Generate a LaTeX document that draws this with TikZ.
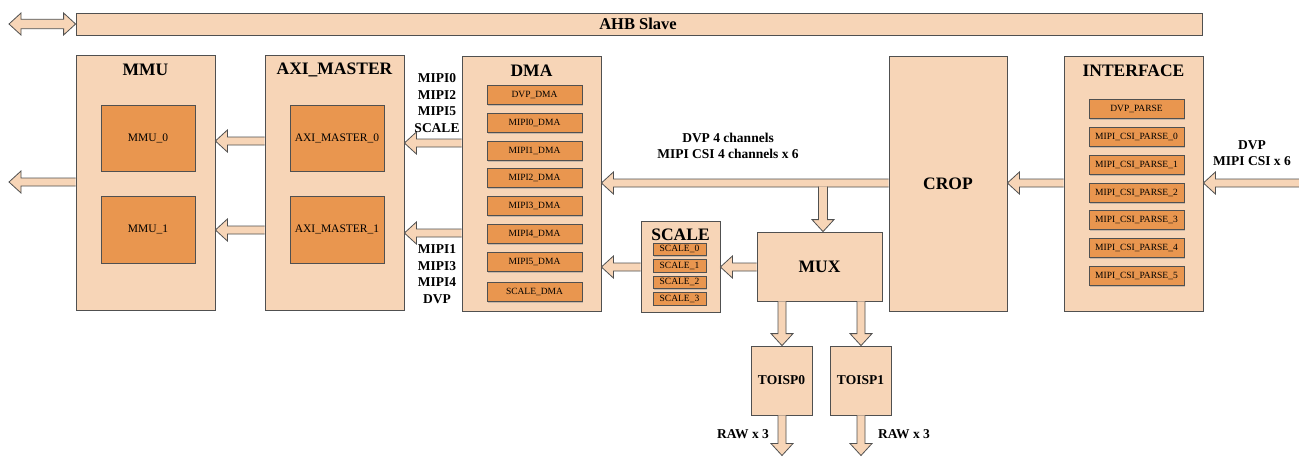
\documentclass[tikz,border=0pt]{standalone}
\usepackage{fontspec}
\setmainfont{Liberation Serif}
\usetikzlibrary{calc,shadows}
\definecolor{peach}{HTML}{F7D5B7}
\definecolor{orng}{HTML}{E9964F}
\definecolor{edgec}{HTML}{505050}
\tikzset{
  outerbox/.style={draw=edgec, fill=peach, line width=0.8pt, inner sep=0pt,
    drop shadow={shadow xshift=1.2pt, shadow yshift=-1.2pt, fill=black!40, opacity=0.5}},
  innerbox/.style={draw=edgec, fill=orng, line width=0.8pt, inner sep=0pt,
    drop shadow={shadow xshift=1pt, shadow yshift=-1pt, fill=black!40, opacity=0.5}},
  barrow/.style={draw=edgec, fill=peach, line width=0.8pt, line join=miter},
  bigtitle/.style={inner sep=0pt, font=\fontsize{17.5}{20}\selectfont\bfseries},
  lbl/.style={inner sep=0pt, align=center, font=\fontsize{13.5}{16.7}\selectfont\bfseries},
  smalltxt/.style={font=\fontsize{9.5}{11}\selectfont},
  midtxt/.style={font=\fontsize{11.5}{13}\selectfont},
}
\newcommand\bx[7]{\node[#2, minimum width={((#5)-(#3))*1pt}, minimum height={((#6)-(#4))*1pt}] (#1) at ({((#3)+(#5))/2},{((#4)+(#6))/2}) {#7};}
\newcommand\blockarr[3][4]{%
  \path[barrow] let \p1=#2, \p2=#3, \n1={atan2(\y2-\y1,\x2-\x1)}, \n2={veclen(\x2-\x1,\y2-\y1)} in
    [shift={(\p1)}, rotate=\n1] (0pt,-#1pt) -- ({\n2-12pt},-#1pt) -- ({\n2-12pt},-11pt) -- (\n2,0pt)
    -- ({\n2-12pt},11pt) -- ({\n2-12pt},#1pt) -- (0pt,#1pt);}
\newcommand\dblarr[2]{%
  \path[barrow] let \p1=#1, \p2=#2, \n1={atan2(\y2-\y1,\x2-\x1)}, \n2={veclen(\x2-\x1,\y2-\y1)} in
    [shift={(\p1)}, rotate=\n1] (0pt,0pt) -- (12pt,-11pt) -- (12pt,-4.7pt) -- ({\n2-12pt},-4.7pt) -- ({\n2-12pt},-11pt)
    -- (\n2,0pt) -- ({\n2-12pt},11pt) -- ({\n2-12pt},4.7pt) -- (12pt,4.7pt) -- (12pt,11pt) -- cycle;}
\begin{document}
\begin{tikzpicture}[x=1pt,y=-1pt]
\useasboundingbox (0,0) rectangle (1299,456);
\fill[white] (0,0) rectangle (1299,456);

% AHB bus
\bx{ahb}{outerbox}{76}{13}{1202}{35}{}
\node[inner sep=0pt, font=\fontsize{16.5}{19}\selectfont\bfseries] (ahbt) at (638,24) {AHB Slave};
\coordinate (busL) at (9,24);
\dblarr{(busL)}{(ahb.west)}

% MMU
\bx{mmu}{outerbox}{76}{55}{215}{310}{}
\node[bigtitle] (mmut) at (145.5,70) {MMU};
\bx{mmu0}{innerbox,midtxt}{101}{105}{195}{171}{MMU\_0}
\bx{mmu1}{innerbox,midtxt}{101}{196}{195}{263}{MMU\_1}

% AXI
\bx{axi}{outerbox}{265}{55}{404}{310}{}
\node[bigtitle] (axit) at (334.5,70) {AXI\_MASTER};
\bx{axi0}{innerbox,midtxt}{290}{105}{384}{171}{AXI\_MASTER\_0}
\bx{axi1}{innerbox,midtxt}{290}{196}{384}{263}{AXI\_MASTER\_1}

% DMA
\bx{dma}{outerbox}{462}{56}{601}{311}{}
\node[bigtitle] (dmat) at (531.5,71) {DMA};
\foreach \t/\yy [count=\i] in {DVP\_DMA/85, MIPI0\_DMA/113, MIPI1\_DMA/141, MIPI2\_DMA/168, MIPI3\_DMA/196, MIPI4\_DMA/224, MIPI5\_DMA/252, SCALE\_DMA/282}
  {\bx{dma\i}{innerbox,smalltxt}{487}{\yy}{582}{\yy+19.5}{\t}}

% SCALE
\bx{scale}{outerbox}{641}{221}{720}{312}{}
\node[bigtitle] (scalet) at (680.5,235) {SCALE};
\foreach \t/\yy [count=\i] in {SCALE\_0/243, SCALE\_1/259.5, SCALE\_2/276, SCALE\_3/292.5}
  {\bx{sc\i}{innerbox,smalltxt}{653}{\yy}{706}{\yy+12.5}{\t}}

% MUX, TOISP
\bx{mux}{outerbox,bigtitle}{757}{232}{882}{301}{MUX}
\bx{toisp0}{outerbox,lbl}{751}{346}{812}{415}{TOISP0}
\bx{toisp1}{outerbox,lbl}{830}{346}{891}{415}{TOISP1}

% CROP
\bx{crop}{outerbox,bigtitle}{889}{56}{1007}{311}{CROP}

% INTERFACE
\bx{intf}{outerbox}{1064}{56}{1203}{311}{}
\node[bigtitle] (intft) at (1133.5,71) {INTERFACE};
\foreach \t/\yy [count=\i] in {DVP\_PARSE/99, MIPI\_CSI\_PARSE\_0/127, MIPI\_CSI\_PARSE\_1/155, MIPI\_CSI\_PARSE\_2/183, MIPI\_CSI\_PARSE\_3/210, MIPI\_CSI\_PARSE\_4/238, MIPI\_CSI\_PARSE\_5/266}
  {\bx{ip\i}{innerbox,smalltxt}{1089}{\yy}{1184}{\yy+19.5}{\t}}

% arrows
\coordinate (mmuout) at (9,182);
\coordinate (inR) at (1299,183);
\coordinate (raw0) at (782,455.5);
\coordinate (raw1) at (861,455.5);
\coordinate (brs) at (823,186.6);

\blockarr{(axi.west |- 0,141)}{(mmu.east |- 0,141)}
\blockarr{(axi.west |- 0,230)}{(mmu.east |- 0,230)}
\blockarr{(mmu.west |- mmuout)}{(mmuout)}
\blockarr{(dma.west |- 0,143)}{(axi.east |- 0,143)}
\blockarr{(dma.west |- 0,233)}{(axi.east |- 0,233)}
\blockarr{(crop.west |- 0,183)}{(dma.east |- 0,183)}
\blockarr[4.5]{(brs)}{(brs |- mux.north)}
\blockarr{(scale.west |- 0,267)}{(dma.east |- 0,267)}
\blockarr{(mux.west |- 0,267)}{(scale.east |- 0,267)}
\blockarr[4]{(mux.south -| raw0)}{(toisp0.north -| raw0)}
\blockarr[4]{(mux.south -| raw1)}{(toisp1.north -| raw1)}
\blockarr[4]{(toisp0.south -| raw0)}{(raw0)}
\blockarr[4]{(toisp1.south -| raw1)}{(raw1)}
\blockarr{(intf.west |- 0,183)}{(crop.east |- 0,183)}
\blockarr{(inR)}{(intf.east |- inR)}

% labels
\node[lbl] (lab1) at (437,103) {MIPI0\\MIPI2\\MIPI5\\SCALE};
\node[lbl] (lab2) at (437,274) {MIPI1\\MIPI3\\MIPI4\\DVP};
\node[lbl] (lab3) at (728,146) {DVP 4 channels\\MIPI CSI 4 channels x 6};
\node[lbl] (lab4) at (1252,153) {DVP\\MIPI CSI x 6};
\node[lbl] (lab5) at (743,434) {RAW x 3};
\node[lbl] (lab6) at (904,434) {RAW x 3};
\end{tikzpicture}
\end{document}
